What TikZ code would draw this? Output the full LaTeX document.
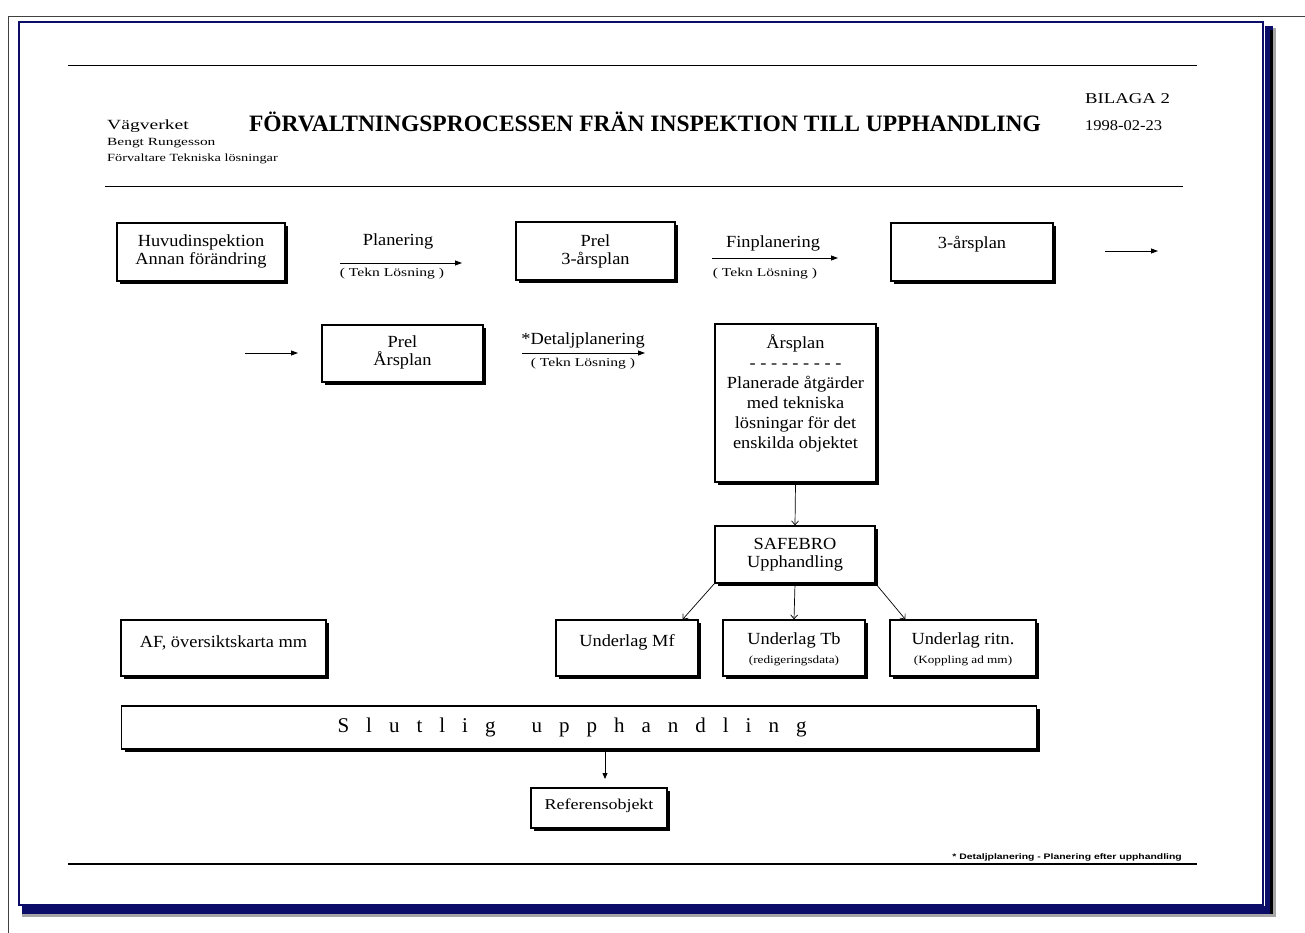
\documentclass[tikz,border=0pt]{standalone}
\usepackage{fontspec}
\setmainfont{Liberation Serif}
\newfontfamily\sA[FakeStretch=1.08]{Liberation Serif}
\newfontfamily\sB[FakeStretch=1.2]{Liberation Serif}
\newfontfamily\sC[FakeStretch=1.3]{Liberation Serif}
\newfontfamily\sD[FakeStretch=1.4]{Liberation Serif}
\newfontfamily\sE[FakeStretch=1.1]{Liberation Serif}
\newfontfamily\sF[FakeStretch=1.25]{Liberation Serif}
\newfontfamily\footsans[FakeStretch=1.3]{Liberation Sans}
\usetikzlibrary{arrows.meta,shadows,calc}
\definecolor{navy}{RGB}{12,12,105}
\begin{document}
\begin{tikzpicture}[x=1pt,y=-1pt,
  box/.style={draw, line width=1.3pt, fill=white, inner sep=0pt,
    drop shadow={shadow xshift=3pt,shadow yshift=-3pt,fill=black,opacity=1}},
  txt/.style={align=center, inner sep=0pt, font=\sA\fontsize{17}{18}\selectfont},
  smalltxt/.style={align=center, inner sep=0pt, font=\sC\fontsize{12}{13}\selectfont},
  subtxt/.style={align=center, inner sep=0pt, font=\sB\fontsize{11}{12}\selectfont},
  arr/.style={line width=0.8pt, -{Triangle[length=7pt,width=5pt]}},
  varr/.style={line width=0.7pt, -{Straight Barb[length=4pt,width=7pt]}},
]
\useasboundingbox (0,0) rectangle (1305,933);
% outer page frame
\draw[line width=1pt, black!75] (8,933) -- (8,17) -- (1305,17);
\fill[gray!70] (22,912) rectangle (1276,917);
\fill[gray!70] (1271,28) rectangle (1276,917);
\fill[navy] (22,906) rectangle (1273,914);
\fill[navy] (1265,26) rectangle (1273,914);
\fill[black] (1270,30) rectangle (1273,914);
\draw[navy, line width=1.5pt] (19,22) rectangle (1263,905);
% document lines
\draw[line width=0.8pt] (68,65) -- (1197,65);
\draw[line width=1pt] (105,187) -- (1183,187);
\draw[line width=2pt] (68,864) -- (1197,864);
% header
\node[anchor=base west, inner sep=0pt, font=\sD\fontsize{14}{15}\selectfont] (vv) at (107,130) {Vägverket};
\node[anchor=base west, inner sep=0pt, font=\sD\fontsize{11}{12}\selectfont] (bn) at (107,146) {Bengt Rungesson};
\node[anchor=base west, inner sep=0pt, font=\sC\fontsize{11}{12}\selectfont] (fv) at (107,162) {Förvaltare Tekniska lösningar};
\node[inner sep=0pt, font=\bfseries\fontsize{23.5}{25}\selectfont] (title) at (645,122) {FÖRVALTNINGSPROCESSEN FRÄN INSPEKTION TILL UPPHANDLING};
\node[anchor=west, inner sep=0pt, font=\sF\fontsize{15}{16}\selectfont] (bil) at (1085,99) {BILAGA 2};
\node[anchor=west, inner sep=0pt, font=\sE\fontsize{15}{16}\selectfont] (dat) at (1085,126) {1998-02-23};
% row 1
\node[box, minimum width=168, minimum height=58] (huv) at (201,252) {};
\node[txt] (huvt) at (201,251) {Huvudinspektion\\Annan förändring};
\coordinate (p1a) at (340,263);
\coordinate (p1b) at (462,263);
\draw[arr] (p1a) -- (p1b);
\node[txt] (p1l) at (398,241) {Planering};
\node[smalltxt] (p1s) at (392,274) {( Tekn Lösning )};
\node[box, minimum width=159, minimum height=58] (prel3) at (595.5,251) {};
\node[txt] (prel3t) at (595.5,251) {Prel\\3-årsplan};
\coordinate (p2a) at (712,258);
\coordinate (p2b) at (838,258);
\draw[arr] (p2a) -- (p2b);
\node[txt] (p2l) at (773,243) {Finplanering};
\node[smalltxt] (p2s) at (765,274) {( Tekn Lösning )};
\node[box, minimum width=162, minimum height=58] (tre) at (972,252) {};
\node[txt] (tret) at (972,244) {3-årsplan};
\coordinate (r1a) at (1105,251);
\coordinate (r1b) at (1158,251);
\draw[arr] (r1a) -- (r1b);
% row 2
\coordinate (r2a) at (245,353);
\coordinate (r2b) at (298,353);
\draw[arr] (r2a) -- (r2b);
\node[box, minimum width=161, minimum height=57] (prela) at (402.5,353.5) {};
\node[txt] (prelat) at (402.5,352) {Prel\\Årsplan};
\coordinate (p3a) at (522,353);
\coordinate (p3b) at (645,353);
\draw[arr] (p3a) -- (p3b);
\node[txt] (p3l) at (583,340) {*Detaljplanering};
\node[smalltxt] (p3s) at (583,364) {( Tekn Lösning )};
\node[box, minimum width=161, minimum height=158] (ars) at (795.5,403) {};
\node[txt, font=\sA\fontsize{17}{20}\selectfont] (arst) at (795.5,393) {Årsplan\\- - - - - - - - -\\Planerade åtgärder\\med tekniska\\lösningar för det\\enskilda objektet};
% lower part
\node[box, minimum width=160, minimum height=57] (safe) at (795,554.5) {};
\node[txt] (safet) at (795,555) {SAFEBRO\\Upphandling};
\draw[varr] (ars.south) -- (safe.north);
\node[box, minimum width=142, minimum height=56] (mf) at (627,648) {};
\node[txt] (mft) at (627,642) {Underlag Mf};
\node[box, minimum width=142, minimum height=56] (tb) at (794,648) {};
\node[txt] (tbt) at (794,640) {Underlag Tb};
\node[subtxt] (tbs) at (794,661) {(redigeringsdata)};
\node[box, minimum width=146, minimum height=56] (rit) at (963,648) {};
\node[txt] (ritt) at (963,640) {Underlag ritn.};
\node[subtxt] (rits) at (963,661) {(Koppling ad mm)};
\draw[varr] (safe.south west) -- ([xshift=-16pt]mf.north east);
\draw[varr] (safe.south) -- (tb.north);
\draw[varr] (safe.south east) -- ([xshift=16pt]rit.north west);
\node[box, minimum width=205, minimum height=56] (af) at (223.5,648) {};
\node[txt] (aft) at (223.5,643) {AF, översiktskarta mm};
\node[box, minimum width=915, minimum height=43] (slut) at (579,727.5) {};
\node[inner sep=0pt, font=\fontsize{21}{22}\selectfont] (slutt) at (572,727) {{\spaceskip=17pt S l u t l i g\hspace{36pt}u p p h a n d l i n g}};
\coordinate (rtop) at (605,779);
\draw[line width=0.8pt, -{Triangle[length=6pt,width=5pt]}] (slut.south -| rtop) -- (rtop);
\node[box, minimum width=136, minimum height=40] (ref) at (599,808) {};
\node[inner sep=0pt, font=\sB\fontsize{15}{16}\selectfont] (reft) at (599,806) {Referensobjekt};
% footnote
\node[anchor=base east, inner sep=0pt, font=\footsans\bfseries\fontsize{8}{9}\selectfont] (fn) at (1182,859) {* Detaljplanering - Planering efter upphandling};
\end{tikzpicture}
\end{document}
